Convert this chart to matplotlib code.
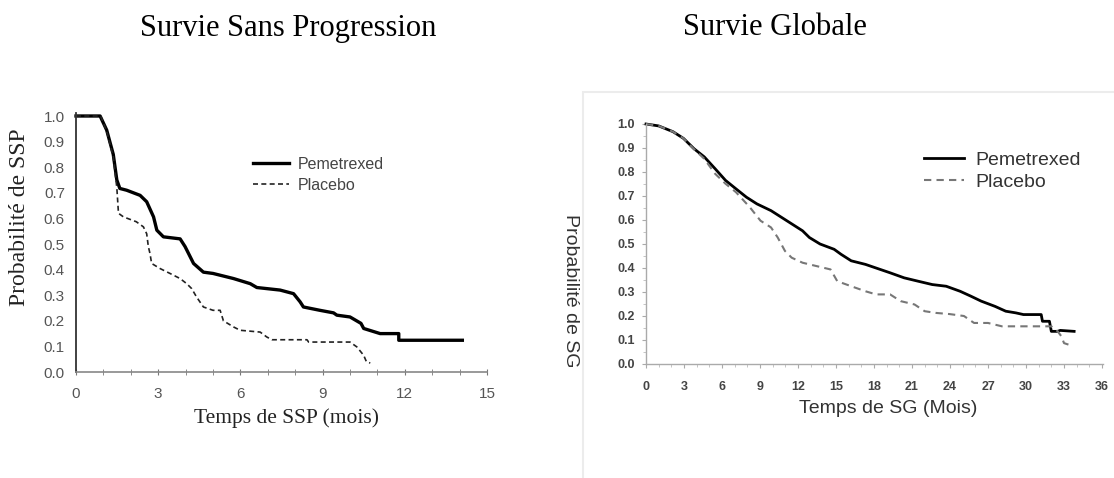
import matplotlib.pyplot as plt
from matplotlib.patches import Rectangle
from matplotlib.ticker import MultipleLocator

# Survie sans progression (SSP), mois / probabilite
ssp_pem_t = [0, 0.88, 1.12, 1.36, 1.49, 1.6, 1.85, 2.34, 2.58, 2.83, 2.95, 3.19, 3.8,
             3.98, 4.29, 4.65, 5.0, 5.75, 6.36, 6.6, 7.45, 7.94, 8.18, 8.3, 8.9, 9.4,
             9.52, 10.0, 10.4, 10.5, 11.1, 11.78, 11.78, 14.1]
ssp_pem_p = [1.0, 1.0, 0.945, 0.85, 0.75, 0.717, 0.71, 0.69, 0.665, 0.606, 0.554, 0.528,
             0.52, 0.49, 0.424, 0.39, 0.385, 0.365, 0.345, 0.33, 0.32, 0.306, 0.274,
             0.254, 0.241, 0.231, 0.222, 0.215, 0.19, 0.17, 0.15, 0.15, 0.124, 0.124]
ssp_pla_t = [0, 0.9, 1.12, 1.36, 1.49, 1.55, 1.73, 2.2, 2.46, 2.58, 2.64, 2.7, 2.76,
             3.07, 3.43, 3.8, 4.04, 4.22, 4.4, 4.65, 5.0, 5.26, 5.38, 5.75, 5.99, 6.72,
             6.96, 7.15, 8.43, 8.49, 10.0, 10.25, 10.5, 10.6, 10.74]
ssp_pla_p = [1.0, 1.0, 0.94, 0.84, 0.72, 0.62, 0.606, 0.587, 0.567, 0.54, 0.49, 0.463,
             0.424, 0.404, 0.385, 0.365, 0.345, 0.326, 0.293, 0.254, 0.241, 0.241, 0.2,
             0.176, 0.163, 0.156, 0.137, 0.126, 0.126, 0.117, 0.117, 0.098, 0.065, 0.04,
             0.035]

# Survie globale (SG)
sg_pem_t = [0, 1.0, 2.13, 2.96, 3.79, 4.6, 5.45, 6.28, 7.1, 7.93, 8.76, 9.87, 10.7,
            11.53, 12.36, 12.9, 13.74, 14.85, 15.4, 16.2, 17.33, 18.16, 19.27, 20.38,
            21.48, 22.6, 23.7, 24.8, 25.63, 26.46, 27.56, 28.4, 29.2, 29.8, 31.2, 31.3,
            31.85, 32.0, 32.5, 32.7, 33.8]
sg_pem_p = [1.0, 0.992, 0.968, 0.94, 0.897, 0.863, 0.814, 0.765, 0.73, 0.695, 0.667,
            0.639, 0.611, 0.583, 0.555, 0.527, 0.5, 0.478, 0.457, 0.43, 0.415, 0.40,
            0.38, 0.359, 0.345, 0.331, 0.324, 0.303, 0.283, 0.262, 0.24, 0.22, 0.213,
            0.206, 0.206, 0.178, 0.178, 0.136, 0.136, 0.14, 0.136]
sg_pla_t = [0, 1.0, 2.13, 2.96, 3.79, 4.6, 5.45, 6.28, 7.1, 8.2, 9.04, 9.87, 10.4,
            10.97, 11.5, 12.36, 13.46, 14.57, 15.1, 16.2, 17.33, 18.16, 19.27, 20.1,
            21.2, 22.0, 22.86, 23.97, 25.1, 25.9, 27.0, 28.1, 32.0, 32.5, 32.8, 33.0,
            33.4]
sg_pla_p = [1.0, 0.992, 0.968, 0.94, 0.895, 0.855, 0.793, 0.751, 0.716, 0.653, 0.597,
            0.569, 0.527, 0.471, 0.443, 0.422, 0.408, 0.394, 0.345, 0.324, 0.303, 0.29,
            0.29, 0.262, 0.248, 0.22, 0.213, 0.208, 0.2, 0.171, 0.171, 0.157, 0.157,
            0.136, 0.115, 0.087, 0.08]

titles = ['Survie Sans Progression', 'Survie Globale']
series = ['Pemetrexed', 'Placebo']

serif = ['Liberation Serif', 'DejaVu Serif']
sans = ['Liberation Sans', 'DejaVu Sans']

W, H = 1114, 478
fig = plt.figure(figsize=(W / 100, H / 100), dpi=100)

def fx(px):
    return px / W

def fy(py):
    return 1 - py / H

# faint frame around the right picture
fig.add_artist(Rectangle((fx(583), -0.01), 0.48, fy(92) + 0.01, transform=fig.transFigure,
                         fill=False, edgecolor='#ececec', linewidth=1.5))

fig.text(fx(288), fy(36), titles[0], ha='center', va='baseline', fontsize=22, family=serif)
fig.text(fx(775), fy(35), titles[1], ha='center', va='baseline', fontsize=22, family=serif)

########## left panel ##########
ax1 = fig.add_axes([fx(76), fy(372), fx(487 - 76), (372 - 116) / H])
ax1.plot(ssp_pem_t, ssp_pem_p, color='black', lw=2.4, label=series[0], clip_on=False)
ax1.plot(ssp_pla_t, ssp_pla_p, color='#222222', lw=1.2, linestyle=(0, (3, 2)),
         label=series[1], clip_on=False)
ax1.set_xlim(0, 15)
ax1.set_ylim(0, 1.0)
for s in ['top', 'right']:
    ax1.spines[s].set_visible(False)
ax1.spines['left'].set_color('#333333')
ax1.spines['left'].set_linewidth(1.3)
ax1.spines['left'].set_bounds(0, 1.01)
ax1.spines['bottom'].set_color('#888888')
ax1.spines['bottom'].set_linewidth(1.2)
ax1.xaxis.set_major_locator(MultipleLocator(3))
ax1.xaxis.set_minor_locator(MultipleLocator(1))
ax1.yaxis.set_major_locator(MultipleLocator(0.1))
ax1.set_yticklabels(['%.1f' % v for v in ax1.get_yticks()])
ax1.tick_params(axis='x', which='both', direction='inout', length=4, color='#777777',
                labelsize=11, labelcolor='#555555', pad=9)
ax1.tick_params(axis='y', length=0, labelsize=11, labelcolor='#555555', pad=8)
for lab in ax1.get_xticklabels() + ax1.get_yticklabels():
    lab.set_family(sans)
fig.text(fx(286), fy(423), 'Temps de SSP (mois)', ha='center', va='baseline',
         family=serif, fontsize=15.5, color='#222222')
fig.text(fx(20), fy(217), 'Probabilité de SSP', ha='center', va='center', rotation=90,
         family=serif, fontsize=17, color='#222222')
leg1 = ax1.legend(loc='center left', bbox_to_anchor=(0.43, 0.77), frameon=False,
                  borderpad=0, borderaxespad=0, handlelength=2.3, handletextpad=0.5,
                  labelspacing=0.35, prop={'family': sans, 'size': 11.5})
for t in leg1.get_texts():
    t.set_color('#444444')

########## right panel ##########
ax2 = fig.add_axes([fx(646), fy(364), fx(1102 - 646), (364 - 124) / H])
ax2.plot(sg_pem_t, sg_pem_p, color='black', lw=2.0, label=series[0], clip_on=False)
ax2.plot(sg_pla_t, sg_pla_p, color='#777777', lw=1.5, linestyle=(0, (3.5, 2.5)),
         label=series[1], clip_on=False)
ax2.set_xlim(0, 36)
ax2.set_ylim(0, 1.0)
for s in ['top', 'right']:
    ax2.spines[s].set_visible(False)
for s in ['left', 'bottom']:
    ax2.spines[s].set_color('#aaaaaa')
    ax2.spines[s].set_linewidth(1.0)
ax2.spines['bottom'].set_bounds(0, 36.1)
ax2.xaxis.set_major_locator(MultipleLocator(3))
ax2.xaxis.set_minor_locator(MultipleLocator(1))
ax2.yaxis.set_major_locator(MultipleLocator(0.1))
ax2.yaxis.set_minor_locator(MultipleLocator(0.05))
ax2.set_yticklabels(['%.1f' % v for v in ax2.get_yticks()])
ax2.tick_params(axis='both', which='major', direction='out', length=3, color='#aaaaaa',
                labelsize=9, labelcolor='#444444')
ax2.tick_params(axis='both', which='minor', direction='out', length=2, color='#bbbbbb')
ax2.tick_params(axis='y', pad=5)
ax2.tick_params(axis='x', pad=9)
for lab in ax2.get_xticklabels() + ax2.get_yticklabels():
    lab.set_family(sans)
    lab.set_fontweight('bold')
fig.text(fx(888), fy(413), 'Temps de SG (Mois)', ha='center', va='baseline',
         family=sans, fontsize=14, color='#333333')
fig.text(fx(571), fy(291), 'Probabilité de SG', ha='center', va='center', rotation=270,
         family=sans, fontsize=14, color='#333333')
leg2 = ax2.legend(loc='center left', bbox_to_anchor=(0.61, 0.804), frameon=False,
                  borderpad=0, borderaxespad=0, handlelength=2.05, handletextpad=0.6,
                  labelspacing=0.2, prop={'family': sans, 'size': 14})
for t in leg2.get_texts():
    t.set_color('#333333')

fig.savefig('out.png', dpi=100, facecolor='white')
